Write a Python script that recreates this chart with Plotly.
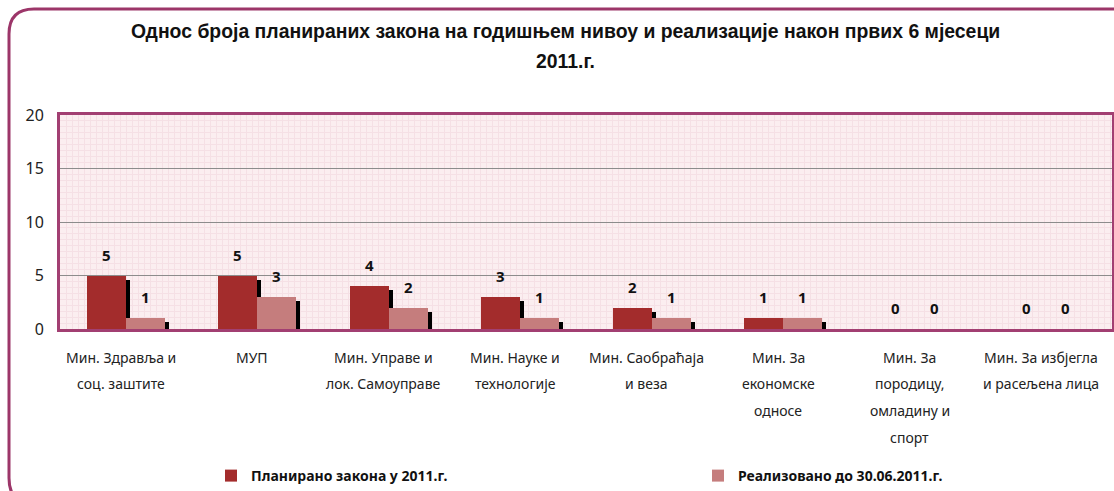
import plotly.graph_objects as go

categories = [
    ["Мин. Здравља и", "соц. заштите"],
    ["МУП"],
    ["Мин. Управе и", "лок. Самоуправе"],
    ["Мин. Науке и", "технологије"],
    ["Мин. Саобраћаја", "и веза"],
    ["Мин. За", "економске", "односе"],
    ["Мин. За", "породицу,", "омладину и", "спорт"],
    ["Мин. За избјегла", "и расељена лица"],
]
planned = [5, 5, 4, 3, 2, 1, 0, 0]
realized = [1, 3, 2, 1, 1, 1, 0, 0]
series_names = ["Планирано закона у 2011.г.", "Реализовано до 30.06.2011.г."]
y_ticks = [0, 5, 10, 15, 20]

W, H = 1114, 491
ML, MR, MT, MB = 60, 2, 115, 162
PW = W - ML - MR
PH = H - MT - MB

def px_x(px):
    return (px - ML) / PW

def px_y(py):
    return (H - MB - py) / PH

idx = list(range(len(categories)))
bw = 0.295
unit_px_x = PW / 8.0
unit_px_y = PH / 20.0
sh_dx = 4 / unit_px_x
sh_dy = 4 / unit_px_y

col_p = "#a32c2c"
col_r = "#c57d7d"

fig = go.Figure()
for vals, off, col, name, lg in [(planned, -bw, col_p, series_names[0], "legend"),
                                 (realized, 0.0, col_r, series_names[1], "legend2")]:
    fig.add_trace(go.Bar(
        x=idx, y=[max(v - sh_dy, 0) if v > 0 else 0 for v in vals],
        offset=off + sh_dx, width=bw, marker=dict(color="black", line=dict(width=0)),
        showlegend=False, hoverinfo="skip"))
    fig.add_trace(go.Bar(
        x=idx, y=vals, offset=off, width=bw, name=name, legend=lg,
        marker=dict(color=col, line=dict(width=0))))

annotations = []
# value labels
for vals, off in [(planned, -bw / 2), (realized, bw / 2)]:
    for i, v in zip(idx, vals):
        annotations.append(dict(
            x=i + off, y=v, xref="x", yref="y", text=str(v), showarrow=False,
            yanchor="middle", yshift=21,
            font=dict(family="Noto Sans", size=15, color="#111111", weight="bold")))
# category labels (multi-line)
for i, lines in zip(idx, categories):
    for j, line in enumerate(lines):
        annotations.append(dict(
            x=i, y=0, xref="x", yref="paper", text=line, showarrow=False,
            yanchor="middle", yshift=-(28 + 26.7 * j), xshift=-5,
            font=dict(family="Noto Sans", size=14, color="#222222")))
# title
annotations.append(dict(
    x=px_x(565), y=px_y(31), xref="paper", yref="paper",
    text="Однос броја планираних закона на годишњем нивоу и реализације након првих 6 мјесеци",
    showarrow=False, yanchor="middle",
    font=dict(family="Liberation Sans", size=19.4, color="#111111", weight="bold")))
annotations.append(dict(
    x=px_x(565), y=px_y(61), xref="paper", yref="paper", text="2011.г.",
    showarrow=False, yanchor="middle",
    font=dict(family="Liberation Sans", size=19.4, color="#111111", weight="bold")))

# outer rounded frame
def P(x, y):
    return f"{px_x(x)},{px_y(y)}"

frame_path = (f"M{P(36, 505)} Q{P(9, 505)} {P(9, 478)} L{P(9, 34)} "
              f"Q{P(9, 9)} {P(34, 9)} L{P(1130, 9)}")

legend_font = dict(family="Noto Sans", size=14, color="#111111", weight="bold")

fig.update_layout(
    width=W, height=H,
    margin=dict(l=ML, r=MR, t=MT, b=MB, autoexpand=False),
    paper_bgcolor="white",
    plot_bgcolor="#fbeef0",
    barmode="overlay",
    bargap=0,
    annotations=annotations,
    shapes=[dict(type="path", path=frame_path, xref="paper", yref="paper",
                 line=dict(color="#9c3669", width=3), layer="above")],
    legend=dict(orientation="h", x=px_x(211), y=px_y(476), xanchor="left", yanchor="middle",
                font=legend_font, bgcolor="rgba(0,0,0,0)"),
    legend2=dict(orientation="h", x=px_x(698), y=px_y(476), xanchor="left", yanchor="middle",
                 font=legend_font, bgcolor="rgba(0,0,0,0)"),
    xaxis=dict(
        range=[-0.5, 7.5], showticklabels=False, showgrid=False, zeroline=False,
        showline=True, mirror=True, linecolor="#a23f72", linewidth=3,
        minor=dict(dtick=6 / unit_px_x, tick0=-0.5, showgrid=True, gridcolor="#f5e0e5", gridwidth=1),
    ),
    yaxis=dict(
        range=[0, 20], tickvals=y_ticks, showgrid=True, gridcolor="#8c8c8c", gridwidth=1,
        zeroline=False, showline=True, mirror=True, linecolor="#a23f72", linewidth=3,
        ticks="", ticklabelstandoff=10,
        tickfont=dict(family="Noto Sans", size=16, color="#222222"),
        minor=dict(dtick=20 / 36, tick0=0, showgrid=True, gridcolor="#f5e0e5", gridwidth=1),
    ),
)

fig.write_html("out.html", post_script="document.body.style.margin='0';",
               config={"displayModeBar": False})
